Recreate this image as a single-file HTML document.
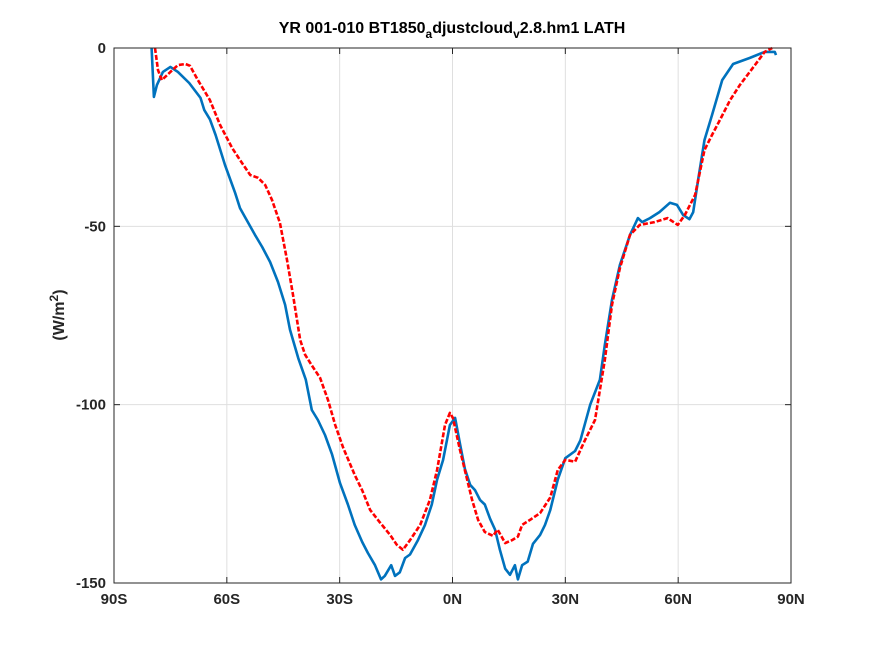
<!DOCTYPE html>
<html><head><meta charset="utf-8"><style>
body{margin:0;background:#fff}
svg{display:block;font-family:"Liberation Sans",sans-serif}
</style></head><body>
<svg id="chart" width="875" height="656" viewBox="0 0 875 656">
<rect width="875" height="656" fill="#fff"/>
<rect x="114" y="48" width="677" height="535" fill="#fff"/>
<g id="grid"></g>
<g id="series"></g>
<rect x="114" y="48" width="677" height="535" fill="none" stroke="#262626" stroke-width="1"/>
<g id="ticks"></g>
<text x="452" y="33" text-anchor="middle" font-size="16" font-weight="bold" fill="#000">YR 001-010 BT1850<tspan font-size="12" dy="5">a</tspan><tspan dy="-5">djustcloud</tspan><tspan font-size="12" dy="5">v</tspan><tspan dy="-5">2.8.hm1 LATH</tspan></text>
<text transform="translate(64,315) rotate(-90)" text-anchor="middle" font-size="16" font-weight="bold" fill="#262626">(W/m<tspan font-size="12" dy="-6">2</tspan><tspan dy="6">)</tspan></text>
</svg>
<script>
const xTicks=[-90,-60,-30,0,30,60,90];
const xTickLabels=["90S","60S","30S","0N","30N","60N","90N"];
const yTicks=[0,-50,-100,-150];
const yTickLabels=["0","-50","-100","-150"];
const blueLat=[-80,-79.4,-78.6,-77,-75,-73,-70,-67,-66,-64.5,-63,-60.5,-57.8,-56.5,-55,-52.5,-50.6,-48.5,-46.4,-44.5,-43.2,-41,-39,-37.4,-35.8,-33.9,-32,-29.9,-27.8,-26,-24,-22.5,-20.6,-19,-18,-16.3,-15.3,-14,-12.6,-11.3,-9.2,-7.3,-5.5,-4.1,-2.5,-0.7,0.7,2,3.3,4.7,6,7.3,8.6,10,11.3,12.6,14,15.3,16.6,17.4,18.5,20,21.4,23.3,24.6,26,28,30,32.6,34,36.6,39.2,40.5,42.4,44.5,47.2,49.3,50.4,52.5,55,57.8,59.7,61.3,63,64,65.3,67,69,71.7,74.6,79,83,85.7,86];
const blueVal=[0,-13.7,-10.4,-6.7,-5.3,-6.7,-9.8,-14,-17.4,-20,-24.4,-32.8,-40.6,-44.9,-47.7,-52.4,-55.8,-60,-65.6,-72,-79,-87,-93,-101.5,-104.3,-108.5,-114,-122,-128,-133.7,-138.5,-141.6,-145,-149,-148,-145,-148,-147,-143,-142,-138,-133.7,-128,-121,-115.5,-105.7,-103.7,-111,-118,-122.5,-124,-126.7,-128,-132,-135,-140.7,-146,-147.7,-145,-149,-145,-144,-139,-136.5,-133.7,-129.5,-121,-115,-113,-110,-100,-93,-83.3,-70.6,-60.8,-52.4,-47.7,-48.8,-47.7,-46,-43.4,-44,-46.8,-48,-46,-37,-25.8,-18.8,-9,-4.5,-2.8,-1.1,-1.1,-2];
const redLat=[-79.1,-78.3,-77.3,-75,-73,-71,-69.8,-67.7,-64.5,-61.8,-58.6,-56.5,-53.8,-51.7,-49.8,-48,-45.9,-44,-42.4,-40.5,-39.2,-37.4,-35.2,-33.1,-31.2,-29.1,-26,-24,-21.9,-19.3,-16.6,-14.8,-13.2,-11.3,-8.6,-6,-4.1,-2,-0.7,0.1,2,3.6,5.2,6.8,8.6,10.8,12,14,15.8,17.4,18.5,20.6,23.3,26,28,30,32.6,35.2,37.9,40.5,42.4,44.5,47.2,49.8,53.7,57.2,59.9,61.8,64.5,67,69,71.1,73.8,76.4,80.4,83,85];
const redVal=[0,-6.2,-9,-6.7,-4.8,-4.5,-5,-9,-14.6,-21.6,-28,-31.4,-35.6,-36.4,-38.4,-42.6,-49,-59.4,-69.2,-81.9,-86,-89,-92.5,-98.7,-105.7,-112,-119.7,-124,-129.5,-133,-136.5,-139.3,-140.7,-138,-133.7,-126.7,-118.3,-105.7,-102.3,-103.7,-112.7,-119.7,-126.7,-132.3,-135.7,-136.8,-135,-138.8,-138,-137,-133.7,-132.3,-130.4,-126,-118.3,-115.5,-116,-110,-104.3,-87.5,-72,-61.7,-52.4,-49.6,-48.8,-47.7,-49.6,-46.8,-41.2,-28.6,-24.4,-20.2,-14.6,-10.4,-4.8,-1.1,0];

const X0=114,X1=791,Y0=48,Y1=583;
function xs(v){return X0+(v+90)/180*(X1-X0);}
function ys(v){return Y0+(0-v)/150*(Y1-Y0);}
const NS="http://www.w3.org/2000/svg";
function mk(tag,attrs,parent){const e=document.createElementNS(NS,tag);for(const k in attrs)e.setAttribute(k,attrs[k]);parent.appendChild(e);return e;}
const grid=document.getElementById('grid'),ticks=document.getElementById('ticks'),series=document.getElementById('series');
xTicks.forEach((t,i)=>{
  const x=xs(t);
  const g=mk('line',{x1:x,x2:x,y1:Y0,y2:Y1,stroke:'#dfdfdf','stroke-width':1},grid);
  
  
  mk('line',{x1:x,x2:x,y1:Y1,y2:Y1-6,stroke:'#262626'},ticks);
  mk('line',{x1:x,x2:x,y1:Y0,y2:Y0+6,stroke:'#262626'},ticks);
  const l=mk('text',{x:x,y:Y1+21,'text-anchor':'middle','font-size':15,'font-weight':'bold',fill:'#262626'},ticks);
  
  
  l.textContent=xTickLabels[i];
});
yTicks.forEach((t,i)=>{
  const y=ys(t);
  const g=mk('line',{x1:X0,x2:X1,y1:y,y2:y,stroke:'#dfdfdf','stroke-width':1},grid);
  
  
  mk('line',{x1:X0,x2:X0+6,y1:y,y2:y,stroke:'#262626'},ticks);
  mk('line',{x1:X1,x2:X1-6,y1:y,y2:y,stroke:'#262626'},ticks);
  const l=mk('text',{x:X0-8,y:y+5,'text-anchor':'end','font-size':15,'font-weight':'bold',fill:'#262626'},ticks);
  
  
  l.textContent=yTickLabels[i];
});
function pts(lat,val){return lat.map((v,i)=>xs(v).toFixed(1)+','+ys(val[i]).toFixed(1)).join(' ');}
const b=mk('polyline',{points:pts(blueLat,blueVal),fill:'none',stroke:'#0072BD','stroke-width':2.6,'stroke-linejoin':'round'},series);


const r=mk('polyline',{points:pts(redLat,redVal),fill:'none',stroke:'#FF0000','stroke-width':2.6,'stroke-dasharray':'5,2','stroke-linejoin':'round'},series);


</script>
</body></html>
